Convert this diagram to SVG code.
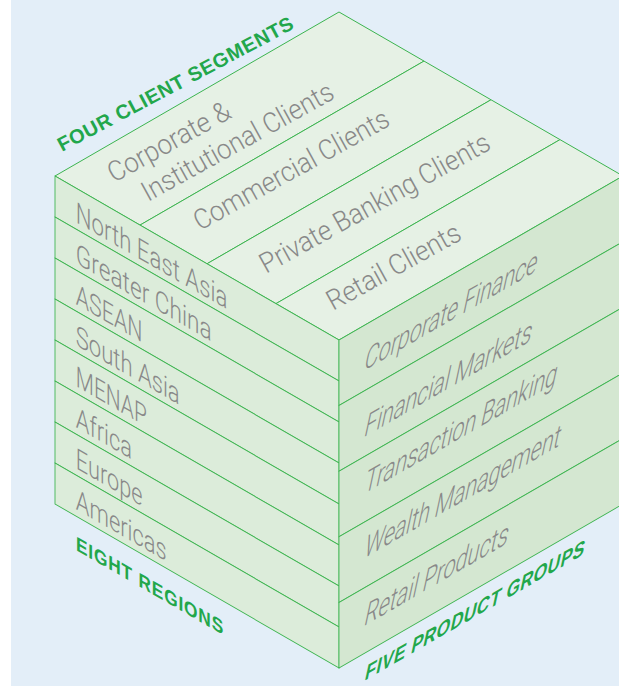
<svg xmlns="http://www.w3.org/2000/svg" width="619" height="686" viewBox="0 0 619 686">
  <style>
    .top{fill:#e6f1e5;stroke:#3cb44f;stroke-width:1}
    .left{fill:#dcecda;stroke:#3cb44f;stroke-width:1}
    .right{fill:#d4e7d1;stroke:#3cb44f;stroke-width:1}
    .lbl{font-family:Roboto,"Liberation Sans",sans-serif;font-weight:300;font-size:28px;fill:#898989}
    .side{font-size:29px}
    .hdr{font-family:"Liberation Sans",Arial,sans-serif;font-weight:bold;font-size:20px;fill:#22a74b}
  </style>

  <!-- backdrop -->
  <rect width="619" height="686" fill="#ffffff"/>
  <rect x="11" y="0" width="608" height="686" fill="#e3eef8"/>

  <!-- top face: client segments -->
  <g id="client-segments">
    <g id="seg-corporate-institutional">
      <polygon class="top" points="55,176 339,12 424,61.08 140,225.08"/>
      <text class="lbl" transform="translate(114 183) rotate(-29)" textLength="136" lengthAdjust="spacingAndGlyphs">Corporate &amp;</text>
      <text class="lbl" transform="translate(148 202) rotate(-29)" textLength="215" lengthAdjust="spacingAndGlyphs">Institutional Clients</text>
    </g>
    <g id="seg-commercial">
      <polygon class="top" points="140,225.08 424,61.08 491,99.77 207,263.77"/>
      <text class="lbl" transform="translate(200 231) rotate(-29)" textLength="219" lengthAdjust="spacingAndGlyphs">Commercial Clients</text>
    </g>
    <g id="seg-private-banking">
      <polygon class="top" points="207,263.77 491,99.77 560,139.62 276,303.62"/>
      <text class="lbl" transform="translate(266 274) rotate(-29)" textLength="259" lengthAdjust="spacingAndGlyphs">Private Banking Clients</text>
    </g>
    <g id="seg-retail">
      <polygon class="top" points="276,303.62 560,139.62 623,176 339,340"/>
      <text class="lbl" transform="translate(333 311) rotate(-29)" textLength="149" lengthAdjust="spacingAndGlyphs">Retail Clients</text>
    </g>
  </g>

  <!-- left face: regions (drawn in face coordinates) -->
  <g id="regions" transform="matrix(0.866 0.5 0 1 55 176)">
    <g id="region-north-east-asia"><rect class="left" x="0" y="0" width="328" height="41"/><text class="lbl side" x="24" y="34" textLength="175" lengthAdjust="spacingAndGlyphs">North East Asia</text></g>
    <g id="region-greater-china"><rect class="left" x="0" y="41" width="328" height="41"/><text class="lbl side" x="24" y="75" textLength="157" lengthAdjust="spacingAndGlyphs">Greater China</text></g>
    <g id="region-asean"><rect class="left" x="0" y="82" width="328" height="41"/><text class="lbl side" x="24" y="116" textLength="77" lengthAdjust="spacingAndGlyphs">ASEAN</text></g>
    <g id="region-south-asia"><rect class="left" x="0" y="123" width="328" height="41"/><text class="lbl side" x="24" y="157" textLength="120" lengthAdjust="spacingAndGlyphs">South Asia</text></g>
    <g id="region-menap"><rect class="left" x="0" y="164" width="328" height="41"/><text class="lbl side" x="24" y="198" textLength="82" lengthAdjust="spacingAndGlyphs">MENAP</text></g>
    <g id="region-africa"><rect class="left" x="0" y="205" width="328" height="41"/><text class="lbl side" x="24" y="239" textLength="65" lengthAdjust="spacingAndGlyphs">Africa</text></g>
    <g id="region-europe"><rect class="left" x="0" y="246" width="328" height="41"/><text class="lbl side" x="24" y="280" textLength="77" lengthAdjust="spacingAndGlyphs">Europe</text></g>
    <g id="region-americas"><rect class="left" x="0" y="287" width="328" height="41"/><text class="lbl side" x="24" y="321" textLength="105" lengthAdjust="spacingAndGlyphs">Americas</text></g>
  </g>

  <!-- right face: product groups (drawn in face coordinates) -->
  <g id="products" transform="matrix(0.866 -0.5 0 1 339 340)">
    <g id="product-corporate-finance"><rect class="right" x="0" y="0" width="328" height="65.6"/><text class="lbl side" transform="translate(27.7 45) skewX(-16)" textLength="199" lengthAdjust="spacingAndGlyphs">Corporate Finance</text></g>
    <g id="product-financial-markets"><rect class="right" x="0" y="65.6" width="328" height="65.6"/><text class="lbl side" transform="translate(27.7 111.6) skewX(-16)" textLength="193" lengthAdjust="spacingAndGlyphs">Financial Markets</text></g>
    <g id="product-transaction-banking"><rect class="right" x="0" y="131.2" width="328" height="65.6"/><text class="lbl side" transform="translate(27.7 168.2) skewX(-16)" textLength="222" lengthAdjust="spacingAndGlyphs">Transaction Banking</text></g>
    <g id="product-wealth-management"><rect class="right" x="0" y="196.8" width="328" height="65.6"/><text class="lbl side" transform="translate(27.7 232.8) skewX(-16)" textLength="226" lengthAdjust="spacingAndGlyphs">Wealth Management</text></g>
    <g id="product-retail"><rect class="right" x="0" y="262.4" width="328" height="65.6"/><text class="lbl side" transform="translate(27.7 300.4) skewX(-16)" textLength="166" lengthAdjust="spacingAndGlyphs">Retail Products</text></g>
  </g>

  <!-- axis titles -->
  <g id="axis-titles">
    <text class="hdr" transform="translate(62 152) rotate(-28)" textLength="264" lengthAdjust="spacing">FOUR CLIENT SEGMENTS</text>
    <text class="hdr" transform="matrix(0.866 0.5 0 1 76 550)" textLength="170" lengthAdjust="spacing">EIGHT REGIONS</text>
    <text class="hdr" transform="matrix(0.866 -0.5 0 1 364 681) skewX(-16)" textLength="253" lengthAdjust="spacing">FIVE PRODUCT GROUPS</text>
  </g>

  <!-- no connectors in this figure -->
  <g id="connectors"/>
</svg>
